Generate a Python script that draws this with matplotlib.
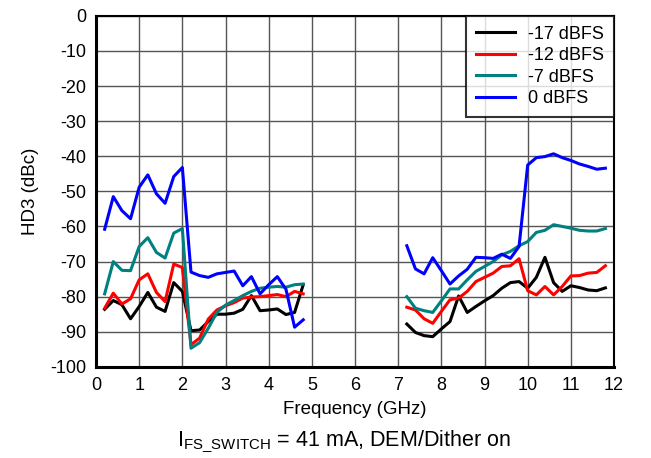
import matplotlib.pyplot as plt
import numpy as np

plt.rcParams['font.family'] = ['Liberation Sans', 'DejaVu Sans']
plt.rcParams['axes.unicode_minus'] = False

# frequency points (GHz), two bands
freq_lo = [0.2, 0.4, 0.6, 0.8, 1.0, 1.2, 1.4, 1.6, 1.8, 2.0, 2.2, 2.4,
           2.6, 2.8, 3.0, 3.2, 3.4, 3.6, 3.8, 4.0, 4.2, 4.4, 4.6, 4.8]
freq_hi = [7.2, 7.4, 7.6, 7.8, 8.0, 8.2, 8.4, 8.6, 8.8, 9.0, 9.2, 9.4,
           9.6, 9.8, 10.0, 10.2, 10.4, 10.6, 10.8, 11.0, 11.2, 11.4, 11.6, 11.8]

# HD3 (dBc) for each input level
m17_lo = [-83.6, -81.1, -82.3, -86.3, -82.8, -78.8, -83.0, -84.2, -76.0, -78.5, -89.7, -89.5,
          -87.1, -85.0, -85.0, -84.7, -83.6, -79.7, -84.0, -83.8, -83.5, -85.1, -84.5, -76.6]
m17_hi = [-87.8, -90.2, -91.1, -91.4, -89.2, -87.1, -79.8, -84.5, -82.8, -81.2, -79.7, -77.6,
          -76.0, -75.7, -77.6, -74.5, -68.8, -76.0, -78.5, -76.9, -77.4, -78.1, -78.3, -77.5]

m12_lo = [-83.3, -79.0, -82.1, -80.6, -75.2, -73.5, -78.8, -81.4, -70.7, -71.7, -93.7, -91.8,
          -86.4, -83.8, -82.6, -81.7, -80.4, -80.1, -80.0, -79.7, -79.4, -80.0, -78.5, -79.2]
m12_hi = [-83.0, -83.8, -86.3, -87.6, -84.2, -80.9, -80.4, -78.5, -75.7, -74.5, -73.3, -71.4,
          -71.2, -69.2, -78.3, -79.5, -77.1, -79.5, -77.1, -74.1, -74.0, -73.3, -73.1, -71.2]

m7_lo = [-79.2, -70.0, -72.5, -72.6, -65.7, -63.2, -67.4, -69.0, -61.9, -60.6, -94.7, -93.1,
         -89.0, -84.5, -82.4, -81.1, -79.7, -78.5, -77.6, -77.3, -77.1, -77.3, -76.6, -76.4]
m7_hi = [-80.0, -83.3, -84.0, -84.5, -81.2, -77.8, -77.8, -75.2, -72.8, -71.4, -70.0, -68.1,
         -67.1, -65.5, -64.3, -61.7, -61.1, -59.5, -60.0, -60.5, -61.1, -61.3, -61.3, -60.6]

m0_lo = [-60.8, -51.5, -55.5, -57.8, -48.8, -45.3, -50.7, -53.4, -45.8, -43.2, -73.0, -74.0,
         -74.5, -73.5, -73.1, -72.7, -76.9, -74.3, -79.2, -76.6, -74.3, -77.9, -88.7, -86.6]
m0_hi = [-65.5, -72.1, -73.5, -68.9, -72.6, -76.4, -74.1, -72.2, -68.8, -68.9, -69.1, -67.9,
         -69.1, -65.7, -42.5, -40.4, -40.1, -39.3, -40.4, -41.2, -42.2, -42.9, -43.7, -43.4]

labels = ['-17 dBFS', '-12 dBFS', '-7 dBFS', '0 dBFS']
colors = ['black', 'red', '#008080', 'blue']
series = [(m17_lo, m17_hi), (m12_lo, m12_hi), (m7_lo, m7_hi), (m0_lo, m0_hi)]

fig = plt.figure(figsize=(6.51, 4.58), dpi=100)
ax = fig.add_axes([0.1475, 0.199, 0.7957, 0.7664])

for (lo, hi), c, lab in zip(series, colors, labels):
    ax.plot(freq_lo, lo, color=c, lw=2.2, label=lab)
    ax.plot(freq_hi, hi, color=c, lw=2.2)

ax.set_xlim(0, 12)
ax.set_ylim(-100, 0)
ax.set_xticks(np.arange(0, 13, 1))
ax.set_yticks(np.arange(-100, 1, 10))
ax.tick_params(length=0, labelsize=13, pad=7)
ax.grid(True, color='#555555', lw=1)
ax.set_axisbelow(True)
for side in ['left', 'bottom']:
    ax.spines[side].set_linewidth(2.2)
for side in ['top', 'right']:
    ax.spines[side].set_linewidth(1.5)

ax.set_xlabel('Frequency (GHz)', fontsize=13.5, labelpad=5)
ax.set_ylabel('HD3 (dBc)', fontsize=13.5, labelpad=8)

leg = ax.legend(loc='upper right', fontsize=13, frameon=True, fancybox=False,
                edgecolor='black', borderaxespad=0, handlelength=2.2,
                labelspacing=0.25, borderpad=0.55, handletextpad=0.7)
leg.get_frame().set_linewidth(1.5)

fig.text(0.528, 0.025, r'I$_{\mathregular{FS\_SWITCH}}$ = 41 mA, DEM/Dither on',
         ha='center', fontsize=15.5)

fig.savefig('out.png', dpi=100)
